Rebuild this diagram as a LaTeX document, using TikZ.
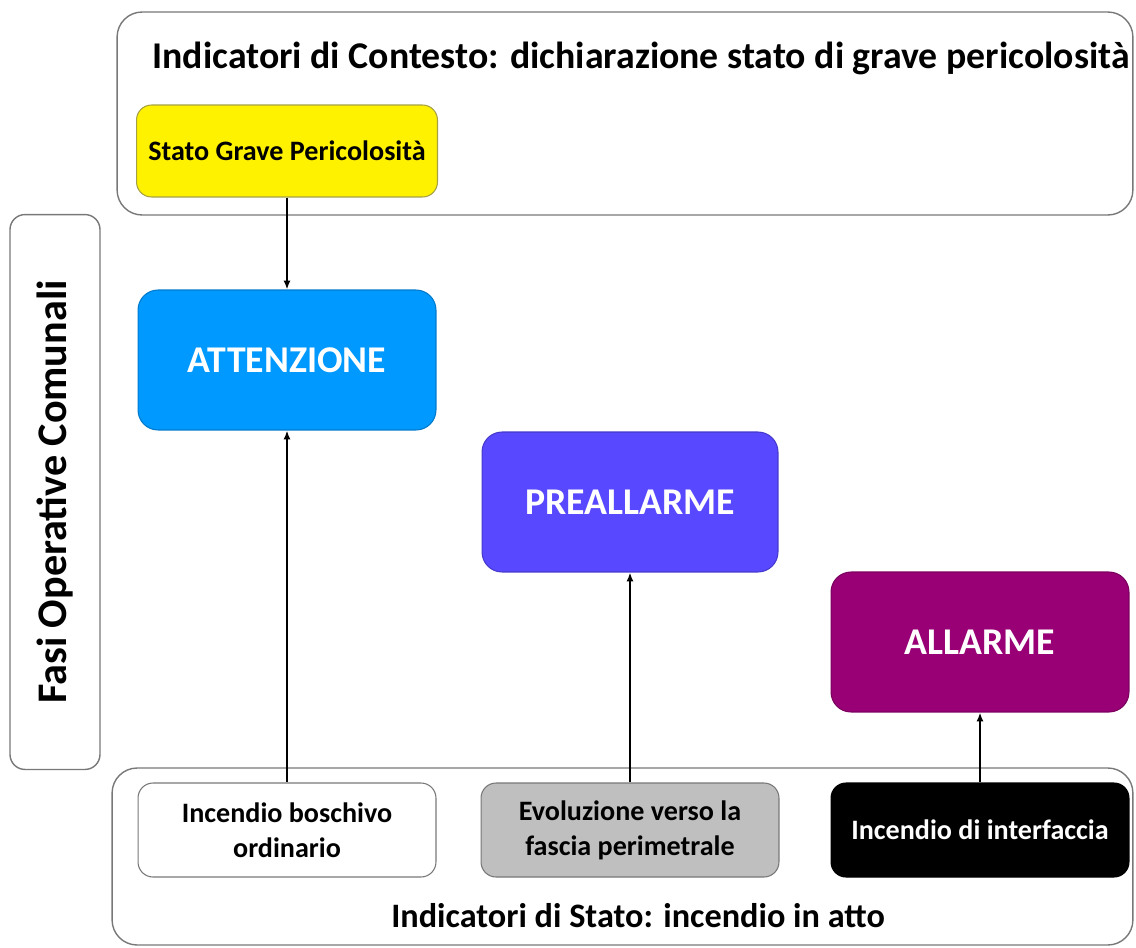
\documentclass[tikz,border=0pt]{standalone}
\usepackage{fontspec}
\setmainfont{Carlito}
\usepackage{tikz}
\usetikzlibrary{arrows.meta}

\definecolor{attblue}{RGB}{0,153,255}
\definecolor{preblue}{RGB}{88,72,255}
\definecolor{allpurple}{RGB}{153,0,117}
\definecolor{framegray}{RGB}{120,120,120}

\tikzset{
  frame/.style={draw=framegray,line width=0.8pt,rounded corners=0.5cm},
  phase/.style={rounded corners=0.4cm,line width=0.6pt,minimum width=5.96cm,
    minimum height=2.8cm,text=white,font=\bfseries\fontsize{21.5}{25}\selectfont},
  indic/.style={rounded corners=0.3cm,line width=0.6pt,minimum width=5.96cm,
    minimum height=1.88cm,align=center,font=\bfseries\fontsize{16}{20}\selectfont},
  up/.style={line width=1pt,-{Latex[length=5pt,width=4pt]}}
}

\begin{document}
\begin{tikzpicture}[x=0.02cm,y=-0.02cm]

    \useasboundingbox (0,0) rectangle (1136,947);

    % contesto
    \node[frame,minimum width=20.32cm,minimum height=4.06cm] (ctx) at (625,113.5) {};
    \node[font=\bfseries\fontsize{21.5}{25}\selectfont] (ctxtitle) at (641,58)
        {Indicatori di Contesto: dichiarazione stato di grave pericolosità};
    \node[indic,fill=yellow,draw=yellow!60!black,minimum width=6.02cm,
        minimum height=1.84cm] (sgp) at (287,151) {Stato Grave Pericolosità};

    % fasi
    \node[frame,rounded corners=0.3cm,minimum width=1.8cm,minimum height=11.1cm] (fasi) at (55,492) {};
    \node[rotate=90,font=\bfseries\fontsize{24}{28}\selectfont] (fasititle) at (55,492)
        {Fasi Operative Comunali};

    \node[phase,fill=attblue,draw=attblue!80!black] (att) at (287,360) {ATTENZIONE};
    \node[phase,fill=preblue,draw=preblue!80!black,minimum width=5.92cm] (pre) at (630,502) {PREALLARME};
    \node[phase,fill=allpurple,draw=allpurple!80!black] (all) at (980,642) {ALLARME};

    % stato
    \node[frame,minimum width=20.42cm,minimum height=3.54cm] (sta) at (622.5,856.5) {};
    \node[font=\bfseries\fontsize{19.5}{23}\selectfont] (statitle) at (638,916)
        {Indicatori di Stato: incendio in atto};

    \node[indic,fill=white,draw=framegray] (ibo) at (287,830) {Incendio boschivo\\ordinario};
    \node[indic,fill=black!25,draw=framegray] (evo) at (630,830) {Evoluzione verso la\\fascia perimetrale};
    \node[indic,fill=black,draw=black,text=white] (ifc) at (980,830) {Incendio di interfaccia};

    \draw[up] (sgp) -- (att);
    \draw[up] (ibo) -- (att);
    \draw[up] (evo) -- (pre);
    \draw[up] (ifc) -- (all);

\end{tikzpicture}
\end{document}
